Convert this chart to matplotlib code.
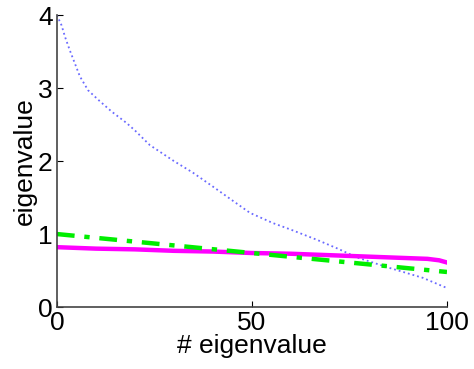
import numpy as np
import matplotlib
matplotlib.use('Agg')
import matplotlib.pyplot as plt

plt.rcParams['font.family'] = ['Liberation Sans', 'DejaVu Sans']

# valeurs
x_blue = [0, 1.2, 2.1, 3.3, 4.6, 5.9, 8.0, 10.6, 14, 17.9, 20, 23.8, 30, 34.9,
          40, 45, 49.5, 55.4, 60, 66.7, 72, 76.9, 85, 93.8, 100]
y_blue = [4.0, 3.86, 3.70, 3.52, 3.34, 3.16, 2.97, 2.84, 2.68, 2.52, 2.42, 2.22,
          2.00, 1.84, 1.65, 1.46, 1.29, 1.15, 1.06, 0.92, 0.80, 0.68, 0.54, 0.40, 0.26]

x_mag = [0, 10, 20, 30, 40, 50, 60, 70, 80, 90, 95, 98, 100]
y_mag = [0.82, 0.80, 0.79, 0.77, 0.76, 0.74, 0.73, 0.71, 0.69, 0.67, 0.66, 0.64, 0.61]

x_green = [0, 25, 50, 75, 100]
y_green = [1.0, 0.87, 0.74, 0.61, 0.48]

fig = plt.figure(figsize=(4.74, 3.69), dpi=100)
ax = fig.add_axes([0.120, 0.168, 0.823, 0.791])

ax.plot(x_blue, y_blue, ':', color='#6a6aff', lw=1.3)
ax.plot(x_mag, y_mag, '-', color='#ff00ff', lw=3.2)
ax.plot(x_green, y_green, '-.', color='#00ee00', lw=3.2, dashes=(4, 2.2, 1.2, 2.2))

ax.set_xlim(0, 100)
ax.set_ylim(0, 4)
ax.set_xticks([0, 50, 100])
ax.set_yticks([0, 1, 2, 3, 4])
for s in ['top', 'right']:
    ax.spines[s].set_visible(False)
for s in ['left', 'bottom']:
    ax.spines[s].set_color('#444444')
    ax.spines[s].set_linewidth(1.2)
ax.tick_params(direction='in', length=4, labelsize=19, pad=3)
ax.set_xlabel('# eigenvalue', fontsize=19, labelpad=-1)
ax.set_ylabel('eigenvalue', fontsize=19, labelpad=1)

fig.savefig('out.png', dpi=100)
